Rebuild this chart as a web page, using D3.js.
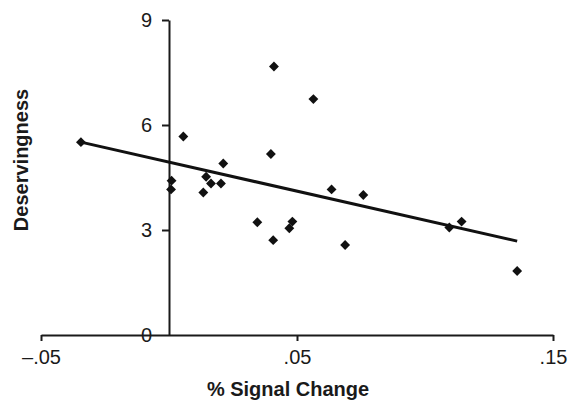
<!DOCTYPE html>
<html>
<head>
<meta charset="utf-8">
<title>Deservingness vs % Signal Change</title>
<script src="https://d3js.org/d3.v7.min.js"></script>
<style>
  body { margin: 0; background: #fff; }
  svg text { font-family: "Liberation Sans", Arial, sans-serif; fill: #1a1a1a; }
</style>
</head>
<body>
<div id="chart"></div>
<script>
// data
var signalChange = [-0.0344, 0.0056, 0.0010, 0.0008, 0.0145, 0.0164, 0.0203, 0.0134, 0.0212,
                    0.0410, 0.0564, 0.0398, 0.0345, 0.0407, 0.0482, 0.0470, 0.0688,
                    0.0635, 0.0759, 0.1095, 0.1143, 0.1360];
var deservingness = [5.51, 5.67, 4.41, 4.16, 4.52, 4.33, 4.33, 4.07, 4.90,
                     7.67, 6.74, 5.17, 3.22, 2.71, 3.24, 3.05, 2.57,
                     4.16, 4.00, 3.07, 3.24, 1.83];
// fitted line as drawn (intercept, slope)
var fitLine = [4.94, -16.6];
var xTicks = [-0.05, 0.05, 0.15];
var xTickLabels = ["\u2013.05", ".05", ".15"];
var yTicks = [0, 3, 6, 9];

var width = 570, height = 403;

var svg = d3.select('#chart').append('svg')
    .attr('width', width)
    .attr('height', height);

var x = d3.scaleLinear().domain([-0.05, 0.15]).range([41, 553]);
var y = d3.scaleLinear().domain([0, 9]).range([335, 20]);

// x axis (at y = 0)
var xAxis = d3.axisBottom(x)
    .tickValues(xTicks)
    .tickFormat(function(d, i) { return xTickLabels[i]; })
    .tickSize(6)
    .tickSizeOuter(0)
    .tickPadding(9);

var gx = svg.append('g')
    .attr('transform', 'translate(0,' + y(0) + ')')
    .call(xAxis);
gx.select('.domain').attr('stroke', '#1a1a1a').attr('stroke-width', 2);
gx.selectAll('.tick line').attr('stroke', '#1a1a1a').attr('stroke-width', 2);
gx.selectAll('.tick text')
    .style('font-size', '20px')
    .attr('fill', '#1a1a1a');

// y axis (at x = 0)
var yAxis = d3.axisLeft(y)
    .tickValues(yTicks)
    .tickFormat(d3.format('d'))
    .tickSize(7)
    .tickSizeOuter(0)
    .tickPadding(10);

var gy = svg.append('g')
    .attr('transform', 'translate(' + x(0) + ',0)')
    .call(yAxis);
gy.select('.domain').attr('stroke', '#1a1a1a').attr('stroke-width', 2);
gy.selectAll('.tick line').attr('stroke', '#1a1a1a').attr('stroke-width', 2);
gy.selectAll('.tick text')
    .style('font-size', '20px')
    .attr('fill', '#1a1a1a');
// no tick mark at 0 on the y axis, the x axis is there
gy.selectAll('.tick').filter(function(d) { return d === 0; }).select('line').remove();

// regression line over the data range
var xMin = d3.min(signalChange), xMax = d3.max(signalChange);
svg.append('line')
    .attr('x1', x(xMin))
    .attr('y1', y(fitLine[0] + fitLine[1] * xMin))
    .attr('x2', x(xMax))
    .attr('y2', y(fitLine[0] + fitLine[1] * xMax))
    .attr('stroke', '#111')
    .attr('stroke-width', 3);

// points
var diamond = d3.symbol().type(d3.symbolDiamond2).size(62);
svg.selectAll('path.pt')
    .data(d3.range(signalChange.length))
    .enter()
    .append('path')
    .attr('class', 'pt')
    .attr('d', diamond)
    .attr('transform', function(i) {
        return 'translate(' + x(signalChange[i]) + ',' + y(deservingness[i]) + ')';
    })
    .attr('fill', '#111');

// axis titles
svg.append('text')
    .attr('x', 288)
    .attr('y', 396)
    .attr('text-anchor', 'middle')
    .style('font-size', '20px')
    .style('font-weight', 'bold')
    .text('% Signal Change');

svg.append('text')
    .attr('transform', 'translate(28,160) rotate(-90)')
    .attr('text-anchor', 'middle')
    .style('font-size', '20px')
    .style('font-weight', 'bold')
    .text('Deservingness');
</script>
</body>
</html>
